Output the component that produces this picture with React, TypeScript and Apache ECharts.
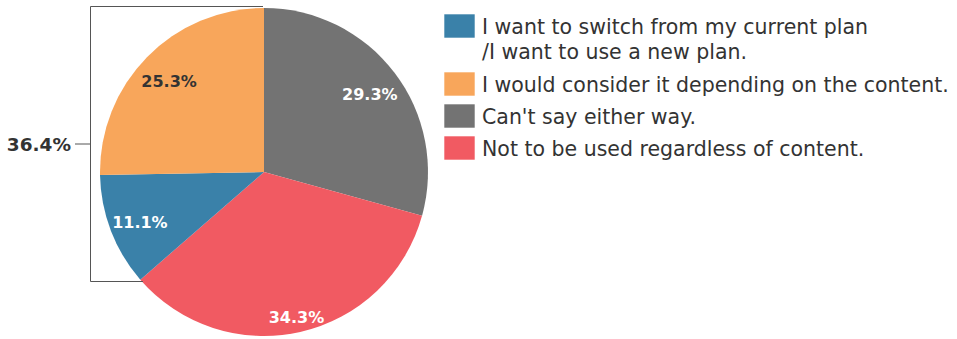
import React, { useEffect, useRef } from "react";
import * as echarts from "echarts";

const categories = [
  "I want to switch from my current plan\n/I want to use a new plan.",
  "I would consider it depending on the content.",
  "Can't say either way.",
  "Not to be used regardless of content.",
];
const values = [11.1, 25.3, 29.3, 34.3];
const colors = ["#3A81A9", "#F8A65B", "#737373", "#F15A62"];
const labelColors = ["#FFFFFF", "#333333", "#FFFFFF", "#FFFFFF"];
// drawing order, clockwise from 12 o'clock
const pieOrder = [2, 3, 0, 1];
// slices grouped by the bracket on the left
const bracketGroup = [0, 1];

export default function App() {
  const ref = useRef<HTMLDivElement>(null);

  useEffect(() => {
    document.body.style.margin = "0";
    const chart = echarts.init(ref.current!, undefined, { renderer: "svg" });

    const cx = 264;
    const cy = 172;
    const r = 164;
    const font = "DejaVu Sans, Verdana, sans-serif";

    const bracketSum = bracketGroup.reduce((s, i) => s + values[i], 0);

    const legendEls: any[] = [];
    let top = 14;
    categories.forEach((name, i) => {
      const lines = name.split("\n").length;
      legendEls.push({
        type: "rect",
        shape: { x: 444, y: top, width: 31, height: 24 },
        style: { fill: colors[i], stroke: "rgba(255,255,255,0.6)", lineWidth: 1 },
        silent: true,
      });
      legendEls.push({
        type: "text",
        x: 482,
        y: top,
        style: {
          text: name,
          fill: "#333333",
          font: `20.5px ${font}`,
          lineHeight: 25,
          verticalAlign: "top",
          align: "left",
        },
        silent: true,
      });
      top += 24 + (lines - 1) * 26 + 8;
    });

    const bx = 90;
    const topY = 6.5;
    const botY = 281.5;
    const midY = (topY + botY) / 2;

    const option: any = {
      animation: false,
      series: [
        {
          type: "pie",
          radius: [0, r],
          center: [cx, cy],
          startAngle: 90,
          clockwise: true,
          silent: true,
          label: { show: false },
          labelLine: { show: false },
          itemStyle: { borderWidth: 0 },
          data: pieOrder.map((i) => ({
            name: categories[i],
            value: values[i],
            itemStyle: { color: colors[i] },
          })),
        },
        {
          type: "pie",
          radius: [96, r],
          center: [cx, cy],
          startAngle: 90,
          clockwise: true,
          silent: true,
          itemStyle: { color: "rgba(0,0,0,0)", borderWidth: 0 },
          labelLine: { show: false },
          label: {
            show: true,
            position: "inside",
            rotate: 0,
            fontFamily: font,
            fontWeight: "bold",
            fontSize: 16,
            formatter: (p: any) => `${Number(p.value).toFixed(1)}%`,
          },
          data: pieOrder.map((i) => ({
            name: categories[i],
            value: values[i],
            label: {
              color: labelColors[i],
              offset: i === 3 ? [3, 16] : [0, 3],
            },
          })),
        },
      ],
      graphic: [
        {
          type: "polyline",
          shape: {
            points: [
              [cx - 1, topY],
              [bx + 0.5, topY],
              [bx + 0.5, botY],
              [143, botY],
            ],
          },
          style: { stroke: "#555555", lineWidth: 1, fill: "none" },
          silent: true,
          z: 10,
        },
        {
          type: "line",
          shape: { x1: 75, y1: midY, x2: bx, y2: midY },
          style: { stroke: "#555555", lineWidth: 1 },
          silent: true,
        },
        {
          type: "text",
          x: 71,
          y: midY,
          style: {
            text: `${bracketSum.toFixed(1)}%`,
            fill: "#333333",
            font: `bold 18.5px ${font}`,
            align: "right",
            verticalAlign: "middle",
          },
          silent: true,
        },
        ...legendEls,
      ],
    };

    chart.setOption(option);
    return () => chart.dispose();
  }, []);

  return <div ref={ref} style={{ width: 957, height: 339 }} />;
}
